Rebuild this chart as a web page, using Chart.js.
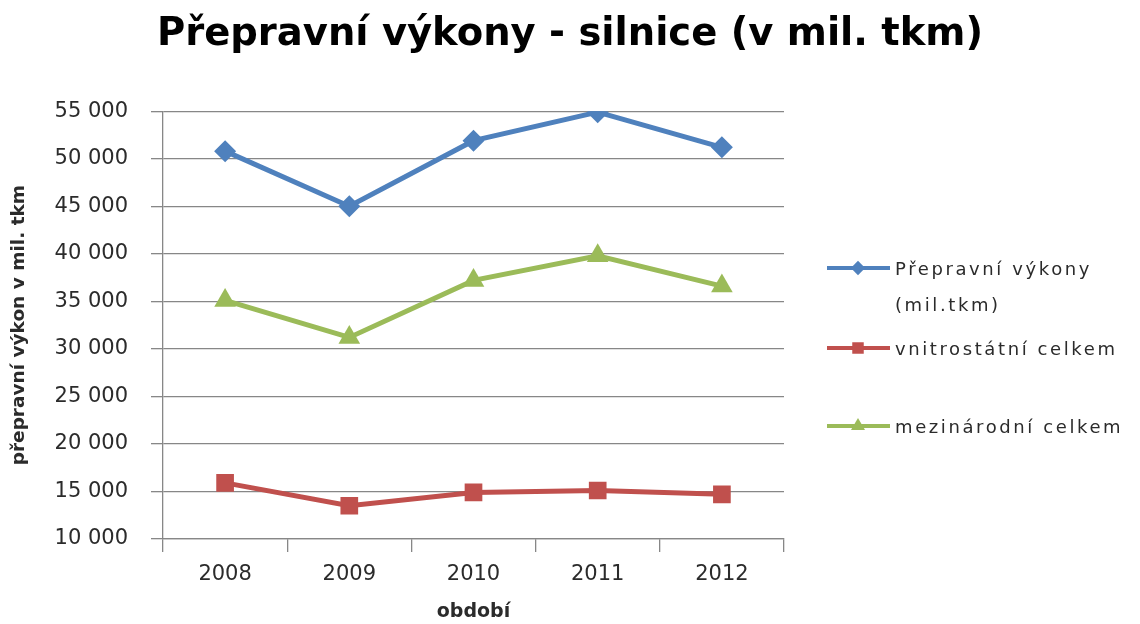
<!DOCTYPE html>
<html>
<head>
<meta charset="utf-8">
<script src="https://cdn.jsdelivr.net/npm/chart.js@4/dist/chart.umd.min.js"></script>
<style>
  html, body { margin: 0; padding: 0; background: #fff; }
  #wrap { width: 1140px; height: 624px; }
</style>
</head>
<body>
<div id="wrap"><canvas id="chart" width="1140" height="624"></canvas></div>
<script>
const years = ["2008", "2009", "2010", "2011", "2012"]
const totalTkm = [50800, 45000, 51900, 54900, 51200]
const domesticTkm = [15900, 13500, 14900, 15100, 14700]
const internationalTkm = [35100, 31200, 37200, 39800, 36600]
const seriesNames = [["Přepravní výkony", "(mil.tkm)"], ["vnitrostátní celkem"], ["mezinárodní celkem"]]

const blue = "#4F81BD"
const red = "#C0504D"
const green = "#9BBB59"
const gridGray = "#878787"
const textGray = "#2b2b2b"

// legend drawn by hand so the first label can wrap over two lines
const sideLegend = {
    id: "sideLegend",
    afterDraw(chart) {
        const ctx = chart.ctx
        const rows = [268, 348, 426]
        ctx.save()
        chart.data.datasets.forEach((ds, i) => {
            const y = rows[i]
            ctx.strokeStyle = ds.borderColor
            ctx.lineWidth = 4
            ctx.beginPath()
            ctx.moveTo(827, y)
            ctx.lineTo(890, y)
            ctx.stroke()
            ctx.fillStyle = ds.backgroundColor
            Chart.helpers.drawPoint(ctx, {
                pointStyle: ds.pointStyle, radius: ds.pointRadius * 0.65, rotation: 0, borderWidth: 0
            }, 858, y)
            ctx.fillStyle = textGray
            ctx.font = "18px 'DejaVu Sans'"
            ctx.letterSpacing = "2.6px"
            ctx.textBaseline = "middle"
            ctx.textAlign = "left"
            seriesNames[i].forEach((line, k) => ctx.fillText(line, 895, y + 2 + k * 36))
        })
        ctx.restore()
    }
}

new Chart(document.getElementById("chart").getContext("2d"), {
    type: "line",
    data: {
        labels: years,
        datasets: [
            {
                label: seriesNames[0].join(" "),
                data: totalTkm,
                borderColor: blue,
                backgroundColor: blue,
                borderWidth: 5,
                pointStyle: "rectRot",
                pointRadius: 11,
                pointBorderWidth: 0,
                tension: 0
            },
            {
                label: seriesNames[1].join(" "),
                data: domesticTkm,
                borderColor: red,
                backgroundColor: red,
                borderWidth: 5,
                pointStyle: "rect",
                pointRadius: 12.5,
                pointBorderWidth: 0,
                tension: 0
            },
            {
                label: seriesNames[2].join(" "),
                data: internationalTkm,
                borderColor: green,
                backgroundColor: green,
                borderWidth: 5,
                pointStyle: "triangle",
                pointRadius: 12.5,
                pointBorderWidth: 0,
                tension: 0
            }
        ]
    },
    options: {
        responsive: false,
        animation: false,
        layout: {
            padding: { left: 0, right: 0, top: 0, bottom: 0 }
        },
        scales: {
            x: {
                offset: true,
                grid: {
                    offset: true,
                    drawOnChartArea: false,
                    color: gridGray,
                    lineWidth: 1.3,
                    tickLength: 13
                },
                border: { color: gridGray, width: 1.3 },
                ticks: {
                    color: textGray,
                    font: { family: "'DejaVu Sans'", size: 21 },
                    padding: 10
                },
                title: {
                    display: true,
                    text: "období",
                    color: textGray,
                    font: { family: "'DejaVu Sans'", size: 19, weight: "bold" },
                    padding: { top: 2, bottom: 1 }
                },
                afterFit: s => { s.height = 85 }
            },
            y: {
                min: 10000,
                max: 55000,
                grid: {
                    color: gridGray,
                    lineWidth: 1.3,
                    tickLength: 12
                },
                border: { color: gridGray, width: 1.3 },
                ticks: {
                    stepSize: 5000,
                    color: textGray,
                    font: { family: "'DejaVu Sans'", size: 21 },
                    padding: 23,
                    callback: v => v.toLocaleString("en-US").replace(/,/g, " ")
                },
                title: {
                    display: true,
                    text: "přepravní výkon v mil. tkm",
                    color: textGray,
                    font: { family: "'DejaVu Sans'", size: 18.5, weight: "bold" },
                    padding: { top: 8, bottom: 0 }
                },
                afterFit: s => { s.width = 163 }
            },
            // empty right-hand box that keeps room for the legend
            side: {
                position: "right",
                display: true,
                grid: { display: false },
                border: { display: false },
                ticks: { display: false },
                afterFit: s => { s.width = 356 }
            }
        },
        plugins: {
            legend: { display: false },
            tooltip: { enabled: false },
            title: {
                display: true,
                text: "Přepravní výkony - silnice (v mil. tkm)",
                color: "#000",
                font: { family: "'DejaVu Sans'", size: 38.5, weight: "bold" },
                padding: { top: 12, bottom: 53 }
            }
        }
    },
    plugins: [sideLegend]
})
</script>
</body>
</html>
